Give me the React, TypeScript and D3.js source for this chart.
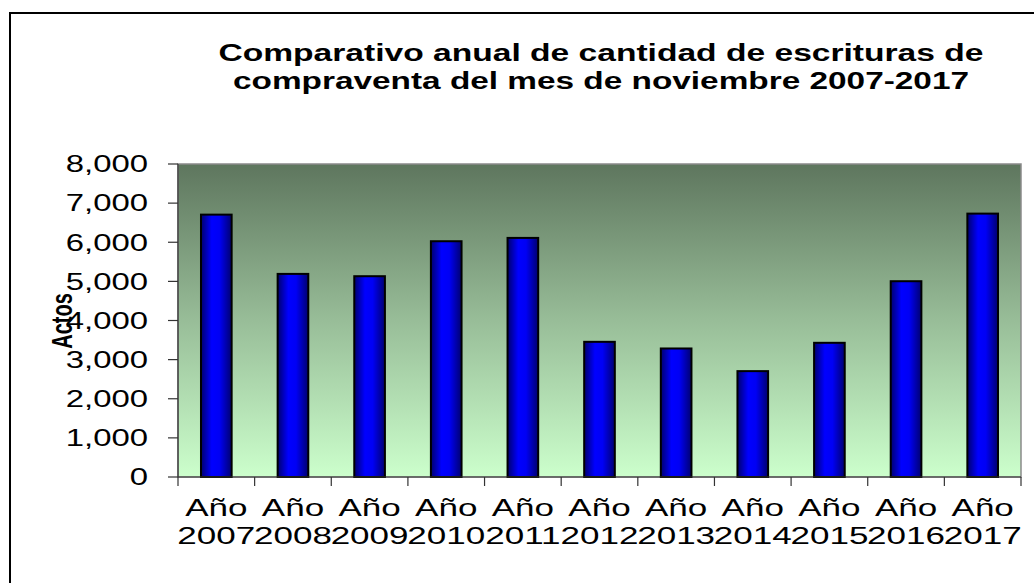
import React from "react";
import * as d3 from "d3";

const categories: string[] = ["2007", "2008", "2009", "2010", "2011", "2012", "2013", "2014", "2015", "2016", "2017"];
const values: number[] = [6706, 5191, 5132, 6026, 6111, 3455, 3285, 2706, 3430, 5004, 6732];
const yTicks: number[] = [0, 1000, 2000, 3000, 4000, 5000, 6000, 7000, 8000];
const titleLines: string[] = ["Comparativo anual de cantidad de escrituras de", "compraventa del mes de noviembre 2007-2017"];
const yTitle = "Actos";
const catPrefix = "Año";

export default function App() {
  const W = 1034, H = 583;
  const left = 178, right = 1021, top = 164, bottom = 477;
  const sx = 1.43;
  const x = d3.scaleBand<string>().domain(categories).range([left, right]).paddingInner(0.6).paddingOuter(0.3);
  const y = d3.scaleLinear().domain([0, 8000]).range([bottom, top]);
  const step = x.step();
  const fmt = d3.format(",");
  const font = "'Liberation Sans', Arial, sans-serif";
  const titleWidths = [765, 736];
  return (
    <svg width={W} height={H} style={{ position: "fixed", left: 0, top: 0, background: "#fff" }} fontFamily={font}>
      <defs>
        <linearGradient id="bg" x1="0" y1="0" x2="0" y2="1">
          <stop offset="0" stopColor="#5e765e" />
          <stop offset="0.5" stopColor="#98bd98" />
          <stop offset="1" stopColor="#ccffcc" />
        </linearGradient>
        <linearGradient id="bar" x1="0" y1="0" x2="1" y2="0">
          <stop offset="0" stopColor="#00006e" />
          <stop offset="0.35" stopColor="#0000ff" />
          <stop offset="0.6" stopColor="#0000f5" />
          <stop offset="1" stopColor="#000070" />
        </linearGradient>
      </defs>
      <rect x={10} y={13} width={W + 20} height={H + 20} fill="#fff" stroke="#000" strokeWidth={2} />
      {titleLines.map((t, i) => (
        <text key={i} x={601} y={61 + i * 28} textAnchor="middle" fontWeight="bold" fontSize={23} fill="#000"
          textLength={titleWidths[i]} lengthAdjust="spacingAndGlyphs">{t}</text>
      ))}
      <rect x={left} y={top} width={right - left} height={bottom - top} fill="url(#bg)" stroke="#8a8a8a" strokeWidth={1.5} />
      {categories.map((c, i) => (
        <rect key={c} x={x(c)!} y={y(values[i])} width={x.bandwidth()} height={bottom - y(values[i])} fill="url(#bar)" stroke="#000" strokeWidth={2} />
      ))}
      <line x1={left} x2={left} y1={top} y2={bottom} stroke="#333" strokeWidth={1.2} />
      <line x1={left} x2={right} y1={bottom} y2={bottom} stroke="#333" strokeWidth={1.2} />
      {yTicks.map((t) => (
        <g key={t}>
          <line x1={168} x2={left} y1={y(t)} y2={y(t)} stroke="#333" strokeWidth={1.2} />
          <text transform={`translate(148,${y(t)}) scale(${sx},1)`} textAnchor="end" dy="0.36em" fontSize={23} fill="#000">{fmt(t)}</text>
        </g>
      ))}
      {d3.range(categories.length + 1).map((i) => (
        <line key={i} x1={left + i * step} x2={left + i * step} y1={bottom} y2={bottom + 9} stroke="#333" strokeWidth={1.2} />
      ))}
      {categories.map((c) => {
        const cx = x(c)! + x.bandwidth() / 2;
        return (
          <g key={c}>
            <text transform={`translate(${cx},516) scale(${sx},1)`} textAnchor="middle" fontSize={24.5} fill="#000">{catPrefix}</text>
            <text transform={`translate(${cx},544) scale(${sx},1)`} textAnchor="middle" fontSize={24.5} fill="#000">{c}</text>
          </g>
        );
      })}
      <text transform={`translate(72,321) scale(${sx},1) rotate(-90)`} textAnchor="middle" fontWeight="bold" fontSize={20} fill="#000">{yTitle}</text>
    </svg>
  );
}
